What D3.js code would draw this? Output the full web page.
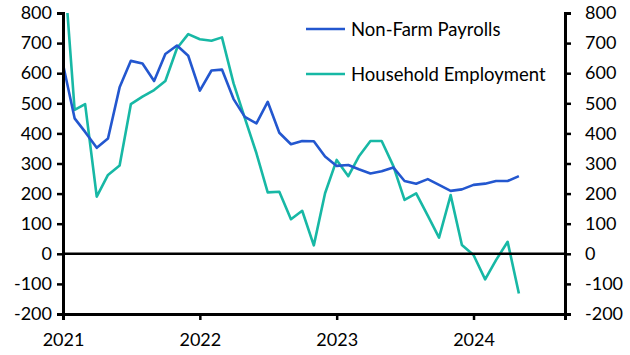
<!DOCTYPE html>
<html><head><meta charset="utf-8">
<script src="https://cdn.jsdelivr.net/npm/d3@7"></script>
<style>body{margin:0;background:#fff}svg{display:block}text{font-family:Lato,"Open Sans",sans-serif}</style>
</head><body>
<script>
const startYear = 2021;
const nfp = [630,450,405,352,383,553,641,632,574,664,692,658,542,609,612,514,455,433,505,402,364,375,374,323,292,295,281,267,274,287,242,233,248,229,209,214,229,233,242,242,258];
const household = [1000,478,497,190,262,293,497,522,544,574,683,730,713,708,719,566,451,334,204,206,115,143,28,201,312,258,323,375,375,292,179,201,127,54,195,29,-4,-85,-21,40,-132];
const yTicks = [-200,-100,0,100,200,300,400,500,600,700,800];
const xTickYears = [2021,2022,2023,2024];
const seriesNames = ["Non-Farm Payrolls","Household Employment"];
const colors = ["#2357CF","#17B8A5"];

const W=630,H=355;
const m={l:63,r:65,t:13,b:41};
const svg=d3.select("body").append("svg").attr("width",W).attr("height",H);
const x=d3.scaleTime().domain([new Date(2021,0,1),new Date(2024,8,1)]).range([m.l,W-m.r]);
const y=d3.scaleLinear().domain([-200,800]).range([H-m.b,m.t]);
const dates=nfp.map((d,i)=>new Date(startYear,i,1));

svg.append("defs").append("clipPath").attr("id","clip").append("rect")
 .attr("x",m.l).attr("y",m.t).attr("width",W-m.l-m.r).attr("height",H-m.t-m.b);

const line=d3.line().x((d,i)=>x(dates[i])).y(d=>y(d));
const g=svg.append("g").attr("clip-path","url(#clip)");
[household,nfp].forEach((s,k)=>{
  g.append("path").datum(s).attr("d",line).attr("fill","none")
   .attr("stroke",k===0?colors[1]:colors[0]).attr("stroke-width",2.6).attr("stroke-linejoin","round");
});

svg.append("line").attr("x1",m.l).attr("x2",W-m.r).attr("y1",y(0)).attr("y2",y(0)).attr("stroke","#000").attr("stroke-width",2.5);

const fs="18px";
const yl=d3.axisLeft(y).tickValues(yTicks).tickSize(6).tickPadding(5);
const yr=d3.axisRight(y).tickValues(yTicks).tickSize(6).tickPadding(14);
const xa=d3.axisBottom(x).tickValues(xTickYears.map(v=>new Date(v,0,1))).tickFormat(d3.timeFormat("%Y")).tickSize(6).tickPadding(13);
function style(a){a.selectAll("path,line").attr("stroke","#000").attr("stroke-width",2.5);a.select(".domain").attr("stroke-width",3);a.selectAll("text").attr("font-size",fs).attr("fill","#000").style("font-family","Lato,'Open Sans',sans-serif");}
const fmt=d=>d<0?"-"+Math.abs(d):String(d);
svg.append("g").attr("transform",`translate(${m.l},0)`).call(yl).call(style).call(a=>a.selectAll("text").text(fmt));
svg.append("g").attr("transform",`translate(${W-m.r},0)`).call(yr).call(style).call(a=>a.selectAll("text").text(fmt));
svg.append("g").attr("transform",`translate(0,${H-m.b})`).call(xa).call(style);

const leg=svg.append("g");
[0,1].forEach(k=>{
  const yy=29+k*45;
  leg.append("line").attr("x1",306).attr("x2",345).attr("y1",yy).attr("y2",yy).attr("stroke",colors[k]).attr("stroke-width",2.6);
  leg.append("text").attr("x",351).attr("y",yy+6.5).attr("font-size","18.5px").attr("fill","#000").text(seriesNames[k]);
});
</script>
</body></html>
